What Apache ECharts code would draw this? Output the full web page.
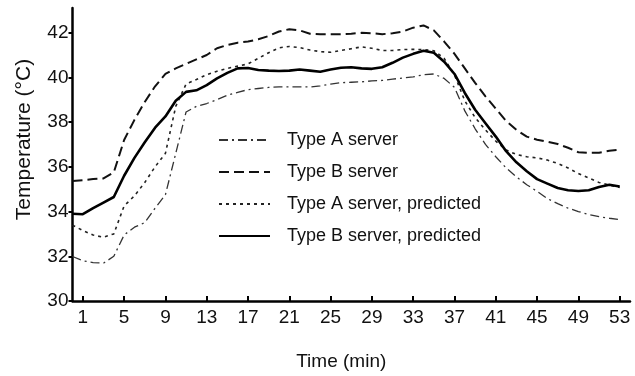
<!DOCTYPE html>
<html>
<head>
<meta charset="utf-8">
<script src="https://cdn.jsdelivr.net/npm/echarts@6/dist/echarts.min.js"></script>
<style>
  html, body { margin: 0; padding: 0; background: #fff; }
  #main { width: 635px; height: 376px; }
</style>
</head>
<body>
<div id="main"></div>
<script>
// 时间 (min)
var minutes = [0, 1, 2, 3, 4, 5, 6, 7, 8, 9, 10, 11, 12, 13, 14, 15, 16, 17, 18, 19,
  20, 21, 22, 23, 24, 25, 26, 27, 28, 29, 30, 31, 32, 33, 34, 35, 36, 37, 38, 39,
  40, 41, 42, 43, 44, 45, 46, 47, 48, 49, 50, 51, 52, 53];

var xTicks = [1, 5, 9, 13, 17, 21, 25, 29, 33, 37, 41, 45, 49, 53];
var yTicks = [30, 32, 34, 36, 38, 40, 42];

var seriesNames = ['Type A server', 'Type B server', 'Type A server, predicted', 'Type B server, predicted'];

// 各曲线温度 (°C)
var typeA = [31.99, 31.8, 31.72, 31.69, 32.0, 32.95, 33.3, 33.5, 34.15, 34.75,
  36.6, 38.45, 38.7, 38.83, 39.0, 39.2, 39.33, 39.45, 39.5, 39.55,
  39.57, 39.57, 39.57, 39.57, 39.62, 39.7, 39.76, 39.78, 39.8, 39.84,
  39.86, 39.92, 39.97, 40.02, 40.12, 40.15, 39.95, 39.55, 38.5, 37.7,
  37.0, 36.45, 35.95, 35.55, 35.2, 34.9, 34.58, 34.35, 34.15, 34.0,
  33.87, 33.77, 33.7, 33.64];

var typeB = [35.37, 35.4, 35.45, 35.48, 35.75, 37.2, 38.1, 38.9, 39.6, 40.15,
  40.4, 40.6, 40.8, 41.0, 41.3, 41.45, 41.55, 41.6, 41.7, 41.85,
  42.05, 42.15, 42.1, 41.95, 41.93, 41.93, 41.93, 41.95, 41.99, 41.97,
  41.93, 41.97, 42.05, 42.22, 42.32, 42.1, 41.6, 41.05, 40.4, 39.75,
  39.15, 38.6, 38.05, 37.65, 37.35, 37.21, 37.12, 37.02, 36.85, 36.65,
  36.62, 36.63, 36.72, 36.77];

var typeAPred = [33.39, 33.15, 32.95, 32.85, 33.0, 34.25, 34.7, 35.3, 36.0, 36.6,
  38.7, 39.7, 39.9, 40.12, 40.27, 40.4, 40.5, 40.6, 40.85, 41.1,
  41.32, 41.38, 41.33, 41.22, 41.15, 41.12, 41.2, 41.28, 41.36, 41.3,
  41.2, 41.2, 41.24, 41.25, 41.24, 41.19, 40.85, 40.1, 38.95, 38.2,
  37.65, 37.15, 36.75, 36.55, 36.45, 36.4, 36.3, 36.15, 35.95, 35.7,
  35.5, 35.3, 35.18, 35.08];

var typeBPred = [33.9, 33.88, 34.15, 34.4, 34.65, 35.6, 36.4, 37.1, 37.75, 38.25,
  38.95, 39.35, 39.42, 39.65, 39.95, 40.2, 40.4, 40.42, 40.33, 40.3,
  40.28, 40.3, 40.35, 40.3, 40.25, 40.35, 40.43, 40.45, 40.4, 40.38,
  40.45, 40.65, 40.88, 41.05, 41.19, 41.1, 40.7, 40.15, 39.3, 38.55,
  37.95, 37.35, 36.7, 36.2, 35.8, 35.45, 35.25, 35.05, 34.95, 34.92,
  34.95, 35.1, 35.2, 35.12];

function pairs(vals) {
  return minutes.map(function (t, i) { return [t, vals[i]]; });
}

var chart = echarts.init(document.getElementById('main'), null, { renderer: 'canvas' });

var font = "'Liberation Sans', Arial, sans-serif";

var option = {
  backgroundColor: '#fff',
  animation: false,
  grid: { left: 72.5, right: 5, top: 8, bottom: 70.5 },
  legend: {
    orient: 'vertical',
    left: 213,
    top: 126,
    itemWidth: 51,
    itemHeight: 14,
    itemGap: 14,
    data: seriesNames,
    // 图例里不要圆点，只留线型
    itemStyle: { color: 'rgba(0,0,0,0)', borderWidth: 0, opacity: 0 },
    textStyle: {
      fontFamily: font,
      fontSize: 18,
      lineHeight: 18,
      color: '#111',
      padding: [0, 0, 0, 12]
    }
  },
  xAxis: {
    type: 'value',
    min: 0,
    max: 54,
    name: 'Time (min)',
    nameLocation: 'middle',
    nameGap: 51,
    nameTextStyle: { fontFamily: font, fontSize: 19, color: '#111', padding: [0, 20, 0, 0] },
    splitLine: { show: false },
    axisLine: { show: true, lineStyle: { color: '#000', width: 2.5 } },
    axisTick: { show: true, inside: true, length: 5, customValues: xTicks, lineStyle: { color: '#000', width: 2 } },
    axisLabel: { customValues: xTicks, fontFamily: font, fontSize: 19, color: '#111', margin: 7 }
  },
  yAxis: {
    type: 'value',
    min: 30,
    max: 43.1,
    name: 'Temperature (°C)',
    nameLocation: 'middle',
    nameGap: 38,
    nameTextStyle: { fontFamily: font, fontSize: 21, color: '#111', padding: [0, 0, 0, 30] },
    splitLine: { show: false },
    axisLine: { show: true, lineStyle: { color: '#000', width: 2.5 } },
    axisTick: { show: true, inside: false, length: 4, customValues: yTicks, lineStyle: { color: '#000', width: 2 } },
    axisLabel: { customValues: yTicks, fontFamily: font, fontSize: 19, color: '#111', margin: 4 }
  },
  series: [
    {
      name: seriesNames[0],
      type: 'line',
      symbol: 'none',
      data: pairs(typeA),
      lineStyle: { color: '#333', width: 1.3, type: [9, 4, 2, 4] },
      itemStyle: { color: '#333' }
    },
    {
      name: seriesNames[1],
      type: 'line',
      symbol: 'none',
      data: pairs(typeB),
      lineStyle: { color: '#111', width: 2, type: [10, 5] },
      itemStyle: { color: '#111' }
    },
    {
      name: seriesNames[2],
      type: 'line',
      symbol: 'none',
      data: pairs(typeAPred),
      lineStyle: { color: '#222', width: 1.6, type: [3, 4] },
      itemStyle: { color: '#222' }
    },
    {
      name: seriesNames[3],
      type: 'line',
      symbol: 'none',
      data: pairs(typeBPred),
      lineStyle: { color: '#000', width: 2.6, type: 'solid' },
      itemStyle: { color: '#000' }
    }
  ]
};

chart.setOption(option);
</script>
</body>
</html>
